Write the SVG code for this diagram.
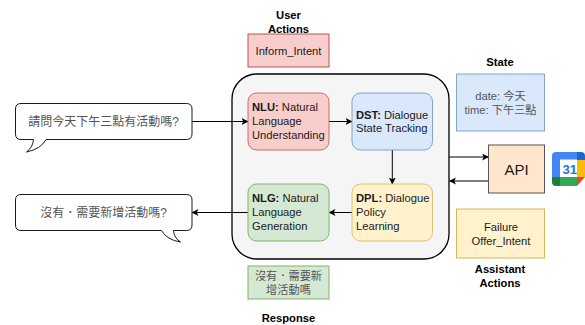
<svg xmlns="http://www.w3.org/2000/svg" width="585" height="325" viewBox="0 0 585 325">
<style>
text{font-family:"Liberation Sans","Noto Sans CJK TC",sans-serif;font-size:11.2px;fill:#1a1a1a}
.c{text-anchor:middle}
.b{font-weight:700}
.t{font-weight:700;text-anchor:middle;fill:#000}
.z{fill:#555}
.big{font-size:12px}
.line{fill:none;stroke:#000;stroke-width:1}
.bubble{fill:#fff;stroke:#000;stroke-width:.9}
</style>
<defs>
<marker id="a" markerUnits="userSpaceOnUse" markerWidth="8" markerHeight="8" refX="6.5" refY="3.5" orient="auto"><path d="M0 0L7 3.5L0 7L1.800 3.500Z" fill="#000"/></marker>
</defs>
<rect width="585" height="325" fill="#fff"/>
<g id="container"><rect x="232" y="74" width="217" height="185" rx="25" fill="#f5f5f5" stroke="#000" stroke-width="1.300"/></g>
<g id="connectors">
<path class="line" marker-end="url(#a)" d="M192 121.500H248"/>
<path class="line" marker-end="url(#a)" d="M329 121.500H352"/>
<path class="line" marker-end="url(#a)" d="M392.300 150V184"/>
<path class="line" marker-end="url(#a)" d="M352 212.500H329"/>
<path class="line" marker-end="url(#a)" d="M248 212.500H192"/>
<path class="line" marker-end="url(#a)" d="M449 157H488.500"/>
<path class="line" marker-end="url(#a)" d="M488.500 181H449.500"/>
</g>
<g id="user-actions-title"><text class="t" x="288.500" y="19">User</text><text class="t" x="288.500" y="33">Actions</text></g>
<g id="inform"><rect x="248" y="34" width="81" height="33" fill="#f8cecc" stroke="#b85450"/><text class="c" x="288.500" y="54.500">Inform_Intent</text></g>
<g id="nlu"><rect x="248" y="93" width="81" height="57" rx="8.500" fill="#f8cecc" stroke="#b85450" stroke-opacity=".8"/><text x="252" y="111"><tspan class="b">NLU:</tspan> Natural</text><text x="252" y="125">Language</text><text x="252" y="139">Understanding</text></g>
<g id="dst"><rect x="352" y="93" width="80.500" height="57" rx="8.500" fill="#dae8fc" stroke="#6c8ebf" stroke-opacity=".8"/><text x="356" y="118.500"><tspan class="b">DST:</tspan> Dialogue</text><text x="356" y="132">State Tracking</text></g>
<g id="dpl"><rect x="352" y="184" width="80.500" height="57" rx="8.500" fill="#fff2cc" stroke="#d6b656" stroke-opacity=".8"/><text x="356" y="202"><tspan class="b">DPL:</tspan> Dialogue</text><text x="356" y="216">Policy</text><text x="356" y="230">Learning</text></g>
<g id="nlg"><rect x="248" y="184" width="81" height="57" rx="8.500" fill="#d5e8d4" stroke="#82b366"/><text x="252" y="202"><tspan class="b">NLG:</tspan> Natural</text><text x="252" y="216">Language</text><text x="252" y="230">Generation</text></g>
<g id="response"><rect x="248" y="266" width="81" height="33" fill="#d5e8d4" stroke="#82b366"/><text class="c z" x="288.500" y="280">沒有．需要新</text><text class="c z" x="288.500" y="294">增活動嗎</text></g>
<g id="response-title"><text class="t" x="288.500" y="322">Response</text></g>
<g id="bubble-user"><path class="bubble" d="M21 103.500H186.500Q192 103.500 192 109V134Q192 139.500 186.500 139.500H46Q41 149 26.500 152Q33 147 33.500 139.500H21Q15.500 139.500 15.500 134V109Q15.500 103.500 21 103.500Z"/><text class="c z big" x="103.500" y="126">請問今天下午三點有活動嗎?</text></g>
<g id="bubble-system"><path class="bubble" d="M21 194.500H186.500Q192 194.500 192 200V225Q192 230.500 186.500 230.500H173.500Q174 238 180.500 242Q167 240 161.500 230.500H21Q15.500 230.500 15.500 225V200Q15.500 194.500 21 194.500Z"/><text class="c z big" x="103.500" y="217">沒有．需要新增活動嗎?</text></g>
<g id="state-title"><text class="t" x="500" y="66">State</text></g>
<g id="state"><rect x="456.500" y="74" width="88" height="57" fill="#dae8fc" stroke="#6c8ebf" stroke-opacity=".8"/><text class="c z" x="500.500" y="100">date: 今天</text><text class="c z" x="500.500" y="114">time: 下午三點</text></g>
<g id="api"><rect x="488.500" y="145" width="56" height="48" fill="#ffe6cc" stroke="#555"/><text class="c" x="516.500" y="174.500" style="font-size:15px">API</text></g>
<g id="failure"><rect x="456.500" y="209" width="88" height="49" fill="#fff2cc" stroke="#d6b656"/><text class="c" x="501" y="231">Failure</text><text class="c" x="501" y="244.500">Offer_Intent</text></g>
<g id="assistant-title"><text class="t" x="500" y="273">Assistant</text><text class="t" x="500" y="287">Actions</text></g>
<g id="calendar">
<path d="M556 152H577V177H552V156Q552 152 556 152Z" fill="#4285f4"/>
<path d="M577 152H581Q585 152 585 156V160H577Z" fill="#1967d2"/>
<rect x="577" y="160" width="8" height="17" fill="#fbbc04"/>
<path d="M552 177H560V186H556Q552 186 552 182Z" fill="#188038"/>
<rect x="560" y="177" width="17" height="9" fill="#34a853"/>
<path d="M577 177H585L577 186Z" fill="#ea4335"/>
<rect x="560" y="159.500" width="17" height="17.500" fill="#fff"/>
<text x="562.500" y="173.500" style="font-size:13px;font-weight:700;fill:#1a73e8">31</text>
</g>
</svg>
